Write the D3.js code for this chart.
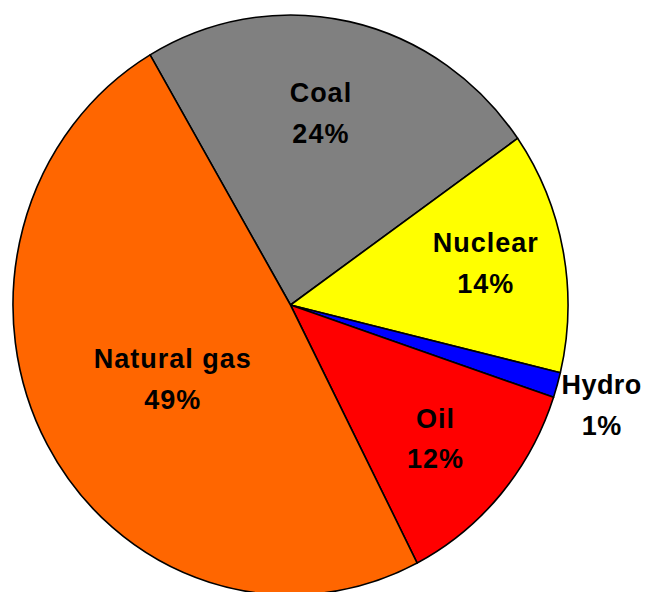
<!DOCTYPE html>
<html>
<head>
<meta charset="utf-8">
<script src="https://cdn.jsdelivr.net/npm/d3@7"></script>
<style>
  body { margin: 0; background: #fff; }
  svg { display: block; }
</style>
</head>
<body>
<script>
// share of each source (clockwise from Coal)
let sources = ["Coal", "Nuclear", "Hydro", "Oil", "Natural gas"];
let shares = [23.7, 13.5, 1.4, 12.3, 49.1];
let colors = ["#808080", "#FFFF00", "#0000FF", "#FF0000", "#FF6600"];

let width = 645;
let height = 592;
let radius = 277.5;
let stretchY = 1.045; // the original picture is a little taller than wide

// where each label sits: fraction of radius + small angle nudge (degrees)
let labelLayout = {
  "Coal": { k: 0.673, da: -2.9 },
  "Nuclear": { k: 0.719, da: -1 },
  "Hydro": { k: 1.172, da: 0.9 },
  "Oil": { k: 0.694, da: 0.5 },
  "Natural gas": { k: 0.493, da: -1.8 }
};

let data = sources.map((s, i) => ({ name: s, value: shares[i], color: colors[i] }));

let svg = d3.select("body").append("svg")
  .attr("width", width)
  .attr("height", height);

let g = svg.append("g")
  .attr("transform", "translate(290.5,305) scale(1," + stretchY + ")");

let pie = d3.pie()
  .sort(null)
  .value(d => d.value)
  .startAngle(-30.4 * Math.PI / 180)
  .endAngle((360 - 30.4) * Math.PI / 180);

let arc = d3.arc().innerRadius(0).outerRadius(radius);

let arcs = pie(data);

g.selectAll("path.slice")
  .data(arcs)
  .join("path")
  .attr("class", "slice")
  .attr("d", arc)
  .attr("fill", d => d.data.color)
  .attr("stroke", "#000")
  .attr("stroke-width", 1.6)
  .attr("stroke-linejoin", "round");

let labels = g.selectAll("text.lbl")
  .data(arcs)
  .join("text")
  .attr("class", "lbl")
  .attr("text-anchor", "middle")
  .attr("font-family", "'Liberation Sans', Arial, sans-serif")
  .attr("font-weight", "bold")
  .attr("font-size", 27)
  .attr("letter-spacing", d => d.data.name == "Hydro" ? 0.4 : 1)
  .attr("fill", "#000")
  .attr("transform", d => {
    let lay = labelLayout[d.data.name];
    let a = (d.startAngle + d.endAngle) / 2 + lay.da * Math.PI / 180;
    let r = radius * lay.k;
    return "translate(" + (r * Math.sin(a)) + "," + (-r * Math.cos(a)) + ")";
  });

labels.append("tspan")
  .attr("x", 0)
  .attr("y", -9.6)
  .text(d => d.data.name);

labels.append("tspan")
  .attr("x", 0)
  .attr("y", 29.6)
  .text(d => Math.round(d.data.value) + "%");
</script>
</body>
</html>
